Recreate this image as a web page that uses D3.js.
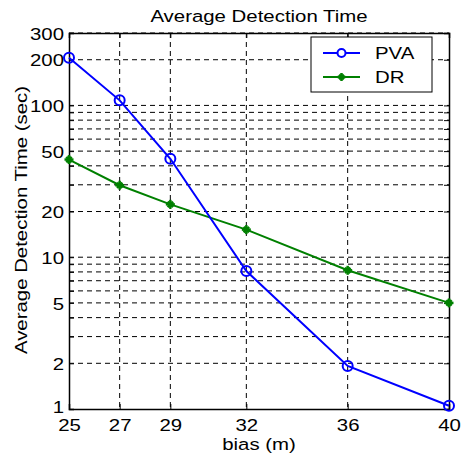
<!DOCTYPE html>
<html>
<head>
<meta charset="utf-8">
<script src="https://cdn.jsdelivr.net/npm/d3@7"></script>
<style>
  body { margin: 0; background: #fff; }
  text { font-family: Arial, "Liberation Sans", sans-serif; fill: #000; }
</style>
</head>
<body>
<div class="canvas"></div>
<script>
const bias = [25, 27, 29, 32, 36, 40];
const pva = [206, 108, 44.5, 8.1, 1.92, 1.05];
const dr = [44, 29.8, 22.3, 15.2, 8.2, 5.0];
const yTicks = [1, 2, 5, 10, 20, 50, 100, 200, 300];
const yGrid = [2, 3, 4, 5, 6, 7, 8, 9, 10, 20, 30, 40, 50, 60, 70, 80, 90, 100, 200, 300];

const W = 462, H = 454;
const margin = { top: 33, right: 13, bottom: 45, left: 69 };
const width = W - margin.left - margin.right;
const height = H - margin.top - margin.bottom;
const fs = 17, sx = 1.2; // the source font renders wide

const svg = d3.select(".canvas").append("svg")
  .attr("width", W).attr("height", H);

const chart = svg.append("g")
  .attr("transform", `translate(${margin.left}, ${margin.top})`);

const x = d3.scaleLinear().domain([25, 40]).range([0, width]);
const y = d3.scaleLog().domain([1, 300]).range([height, 0]);

// grid
chart.append("g").selectAll("line").data(yGrid).enter().append("line")
  .attr("x1", 0).attr("x2", width)
  .attr("y1", d => y(d)).attr("y2", d => y(d))
  .attr("stroke", "#000").attr("stroke-width", 1)
  .attr("stroke-dasharray", "5,4");
chart.append("g").selectAll("line").data(bias.slice(1, -1)).enter().append("line")
  .attr("x1", d => x(d)).attr("x2", d => x(d))
  .attr("y1", 0).attr("y2", height)
  .attr("stroke", "#000").attr("stroke-width", 1)
  .attr("stroke-dasharray", "5,4");

// axes
const xAxis = d3.axisBottom(x).tickValues(bias).tickSize(-5).tickPadding(10).tickFormat(d3.format("d"));
const yAxis = d3.axisLeft(y).tickValues(yGrid.concat([1])).tickSize(-5).tickPadding(5)
  .tickFormat(d => yTicks.includes(d) ? d3.format("d")(d) : "");
const xTop = d3.axisTop(x).tickValues(bias).tickSize(-5).tickFormat("");
const yRight = d3.axisRight(y).tickValues(yGrid).tickSize(-5).tickFormat("");

const gx = chart.append("g").attr("transform", `translate(0, ${height})`).call(xAxis);
const gy = chart.append("g").call(yAxis);
chart.append("g").call(xTop);
chart.append("g").attr("transform", `translate(${width}, 0)`).call(yRight);
chart.selectAll(".domain").attr("stroke", "#000").attr("stroke-width", 1.5);
chart.selectAll(".tick line").attr("stroke", "#000");
gx.selectAll("text").attr("font-size", fs).attr("transform", `scale(${sx},1)`);
gy.selectAll("text").attr("font-size", fs)
  .attr("dy", d => d === 1 ? "0.2em" : "0.36em")
  .attr("x", -5 / sx).attr("transform", `scale(${sx},1)`);

// lines
const line = d3.line().x((d, i) => x(bias[i])).y(d => y(d));
chart.append("path").datum(dr).attr("d", line)
  .attr("fill", "none").attr("stroke", "#008000").attr("stroke-width", 2);
chart.append("path").datum(pva).attr("d", line)
  .attr("fill", "none").attr("stroke", "#0000ff").attr("stroke-width", 2);

function drawStar(g, cx, cy, r) {
  [[0, -r, 0, r], [-r, 0, r, 0], [-r * 0.6, -r * 0.6, r * 0.6, r * 0.6], [-r * 0.6, r * 0.6, r * 0.6, -r * 0.6]]
    .forEach(l => g.append("line")
      .attr("x1", cx + l[0]).attr("y1", cy + l[1]).attr("x2", cx + l[2]).attr("y2", cy + l[3])
      .attr("stroke", "#008000").attr("stroke-width", 2.5));
}
const stars = chart.append("g");
dr.forEach((d, i) => drawStar(stars, x(bias[i]), y(d), 4.5));

chart.append("g").selectAll("circle").data(pva).enter().append("circle")
  .attr("cx", (d, i) => x(bias[i])).attr("cy", d => y(d)).attr("r", 5)
  .attr("fill", "none").attr("stroke", "#0000ff").attr("stroke-width", 2);

// legend
const legend = chart.append("g").attr("transform", `translate(${311 - margin.left}, ${37 - margin.top})`);
legend.append("rect").attr("width", 121).attr("height", 55)
  .attr("fill", "#fff").attr("stroke", "#000").attr("stroke-width", 1);
legend.append("line").attr("x1", 12).attr("x2", 49).attr("y1", 16).attr("y2", 16)
  .attr("stroke", "#0000ff").attr("stroke-width", 2);
legend.append("circle").attr("cx", 30.5).attr("cy", 16).attr("r", 4)
  .attr("fill", "#fff").attr("stroke", "#0000ff").attr("stroke-width", 2);
legend.append("text").attr("transform", `translate(64, 22) scale(${sx},1)`)
  .attr("font-size", fs).text("PVA");
legend.append("line").attr("x1", 12).attr("x2", 49).attr("y1", 40).attr("y2", 40)
  .attr("stroke", "#008000").attr("stroke-width", 2);
drawStar(legend, 30.5, 40, 4);
legend.append("text").attr("transform", `translate(64, 46) scale(${sx},1)`)
  .attr("font-size", fs).text("DR");

// titles
svg.append("text").attr("transform", `translate(${margin.left + width / 2}, 22) scale(${sx},1)`)
  .attr("text-anchor", "middle").attr("font-size", fs).text("Average Detection Time");
svg.append("text").attr("transform", `translate(${margin.left + width / 2}, 450) scale(${sx},1)`)
  .attr("text-anchor", "middle").attr("font-size", fs).text("bias (m)");
svg.append("text")
  .attr("transform", `translate(27, 220) rotate(-90) scale(${sx},1)`)
  .attr("text-anchor", "middle").attr("font-size", fs).text("Average Detection Time (sec)");
</script>
</body>
</html>
